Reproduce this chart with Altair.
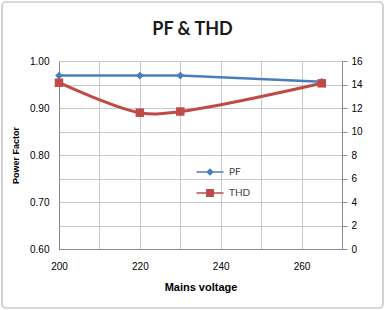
import altair as alt
import pandas as pd

voltage = [200, 220, 230, 265]
pf = [0.969, 0.969, 0.969, 0.956]
thd = [14.15, 11.6, 11.7, 14.1]
series = ["PF", "THD"]
colors = ["#4A7EBB", "#BE4B48"]

df = pd.DataFrame({"voltage": voltage, "pf": pf, "thd": thd})
leg_df = pd.DataFrame({"series": series})

FONT = "Lato"
TXT = "#404040"
GRID = "#c8c8c8"
AX = "#8a8a8a"

x_enc = alt.X("voltage:Q", scale=alt.Scale(domain=[200, 270], nice=False, zero=False),
              axis=alt.Axis(values=list(range(200, 271, 10)),
                            labelExpr="datum.value % 20 == 0 ? datum.label : ''",
                            title="Mains voltage", grid=True, gridColor=GRID,
                            ticks=False, labelPadding=12, titlePadding=10,
                            labelFlush=False, domainColor=AX))

pf_y = alt.Y("pf:Q", scale=alt.Scale(domain=[0.6, 1.0], nice=False, zero=False),
             axis=alt.Axis(values=[0.6, 0.7, 0.8, 0.9, 1.0], format=".2f", grid=False,
                           title="Power Factor", ticks=False, labelPadding=10,
                           titlePadding=9, domainColor=AX, titleFontSize=9))

thd_y = alt.Y("thd:Q", scale=alt.Scale(domain=[0, 16], nice=False),
              axis=alt.Axis(orient="right", values=list(range(0, 17, 2)), grid=True,
                            gridColor=GRID, title=None, tickSize=5, tickColor=AX,
                            labelPadding=4, domainColor=AX))

base = alt.Chart(df)
pf_line = base.mark_line(color=colors[0], strokeWidth=2.5).encode(x=x_enc, y=pf_y)
pf_pts = base.mark_point(shape="diamond", filled=True, size=60, color=colors[0],
                         opacity=1).encode(x=x_enc, y=pf_y)
thd_line = base.mark_line(color=colors[1], strokeWidth=3, interpolate="catmull-rom").encode(
    x=x_enc, y=thd_y)
thd_pts = base.mark_point(shape="square", filled=True, size=72, color=colors[1],
                          opacity=1).encode(x=x_enc, y=thd_y)

paths = ["M-1.5,0L1.5,0M-0.3,0L0,-0.3L0.3,0L0,0.3Z",
         "M-1.5,0L1.5,0M-0.35,-0.35L0.35,-0.35L0.35,0.35L-0.35,0.35Z"]
leg = alt.Legend(title=None, orient="none", legendX=141, legendY=101, padding=0,
                 labelFont=FONT, labelFontSize=10, labelColor=TXT, labelOffset=9,
                 symbolSize=324, symbolStrokeWidth=1.6, rowPadding=5, symbolOpacity=1)
legend_layer = alt.Chart(leg_df).mark_point(filled=True, clip=True, size=324,
                                            strokeWidth=1.6, opacity=1).encode(
    x=alt.value(-60), y=alt.value(-60),
    shape=alt.Shape("series:N", scale=alt.Scale(domain=series, range=paths), legend=leg),
    fill=alt.Fill("series:N", scale=alt.Scale(domain=series, range=colors), legend=leg),
    stroke=alt.Stroke("series:N", scale=alt.Scale(domain=series, range=colors), legend=leg),
)

frame = alt.Chart(pd.DataFrame({"a": [0]})).mark_rect(
    fill=None, stroke="#b5b5b5", strokeWidth=1.2, cornerRadius=4).encode(
    x=alt.value(-57), x2=alt.value(324), y=alt.value(-59), y2=alt.value(247))

left = alt.layer(pf_line, pf_pts)
right = alt.layer(thd_line, thd_pts, legend_layer)

chart = alt.layer(frame, left, right).resolve_scale(y="independent").properties(
    width=283, height=188,
    title=alt.Title("PF & THD", fontSize=18, fontWeight="bold", font=FONT, color="#1a1a1a",
                    anchor="middle", frame="group", offset=-38, dx=-8),
    autosize=alt.AutoSizeParams(type="none"),
    padding={"left": 59, "top": 61, "right": 44, "bottom": 61},
).configure_view(stroke=None).configure_axis(
    labelFont=FONT, labelFontSize=10, labelColor=TXT, titleFont=FONT, titleFontSize=10,
    titleColor="#1a1a1a", titleFontWeight="bold", gridWidth=1, domainWidth=1.2,
).configure(background="white")

chart.save("out.html", embed_options={"renderer": "svg", "actions": False})
